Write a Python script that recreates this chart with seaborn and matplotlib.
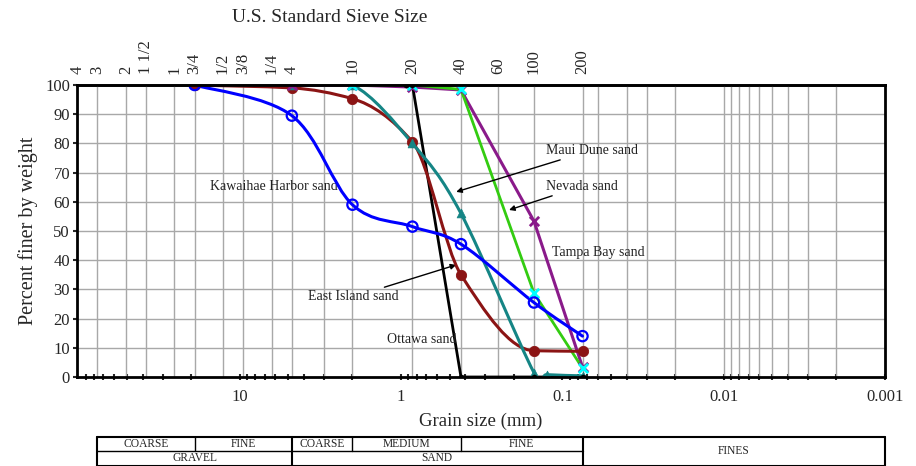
import numpy as np
import pandas as pd
import matplotlib
matplotlib.use("Agg")
import matplotlib.pyplot as plt
import seaborn as sns
from matplotlib.path import Path
from matplotlib.patches import PathPatch

# ---------------- data ----------------
sieve_labels = ["4", "3", "2", "1 1/2", "1", "3/4", "1/2", "3/8", "1/4",
                "4", "10", "20", "40", "60", "100", "200"]
sieve_mm = [101.6, 76.2, 50.8, 38.1, 25.4, 19.05, 12.7, 9.525, 6.35,
            4.75, 2.0, 0.85, 0.425, 0.25, 0.15, 0.075]
extra_grid_mm = [3.0, 0.06, 0.04, 0.03, 0.02, 0.01, 0.009, 0.008, 0.007,
                 0.006, 0.005, 0.004, 0.003, 0.002]
x_major = [10, 1, 0.1, 0.01, 0.001]
x_major_labels = ["10", "1", "0.1", "0.01", "0.001"]
y_ticks = [0, 10, 20, 30, 40, 50, 60, 70, 80, 90, 100]

kawaihae_mm = [19.05, 4.75, 2.0, 0.85, 0.425, 0.15, 0.075]
kawaihae_pct = [100, 89.5, 59, 51.5, 45.5, 25.5, 14]

east_mm = [19.05, 4.75, 2.0, 0.85, 0.425, 0.15, 0.075]
east_pct = [100, 99, 95.3, 80.5, 35, 9, 8.8]

maui_mm = [4.75, 2.0, 0.85, 0.425, 0.15, 0.125, 0.075]
maui_pct = [100, 100, 80, 56, 1.5, 0.8, 0.4]

tampa_mm = [4.75, 2.0, 0.85, 0.425, 0.15, 0.075]
tampa_pct = [100, 100, 99.3, 98.3, 53.4, 3.4]

nevada_mm = [2.0, 0.85, 0.425, 0.15, 0.075]
nevada_pct = [100, 100, 98.5, 28.8, 3]

ottawa_mm = [0.93, 0.85, 0.425, 0.15, 0.075]
ottawa_pct = [100, 100, 0, 0, 0]

table_bounds_mm = [76.2, 19.05, 4.75, 2.0, 0.425, 0.075, 0.001]
table_top_labels = ["COARSE", "FINE", "COARSE", "MEDIUM", "FINE"]
table_group_labels = ["GRAVEL", "SAND"]

# ---------------- style ----------------
sns.set_style("ticks")
plt.rcParams["font.family"] = ["Liberation Serif", "DejaVu Serif"]

C_BLUE = "#0000ff"
C_RED = "#8b1414"
C_TEAL = "#158585"
C_PURPLE = "#8a1a8a"
C_GREEN = "#33cc11"
C_CYAN = "#00ffff"

fig = plt.figure(figsize=(9.16, 4.66), dpi=100)
L, R = 77 / 916, 885 / 916
B, T = 1 - 377 / 466, 1 - 85 / 466
XLIM = (102, 0.001)
ax = fig.add_axes([L, B, R - L, T - B])
ax.set_xscale("log")
ax.set_xlim(*XLIM)
ax.set_ylim(0, 100)


def bezier_patch(xs, ys, color, lw, z, mode="catmull"):
    """Smoothed line through the data points (drawn as cubic Bezier in log-x space)."""
    lx = np.log10(np.asarray(xs, float))
    yy = np.asarray(ys, float)
    n = len(lx)
    if mode == "pchip":
        h = np.diff(lx)
        dl = np.diff(yy) / h
        d = np.zeros(n)
        for k in range(1, n - 1):
            if dl[k - 1] * dl[k] <= 0:
                d[k] = 0.0
            else:
                w1 = 2 * h[k] + h[k - 1]
                w2 = h[k] + 2 * h[k - 1]
                d[k] = (w1 + w2) / (w1 / dl[k - 1] + w2 / dl[k])
        d[0], d[-1] = dl[0], dl[-1]
    verts = [(lx[0], yy[0])]
    codes = [Path.MOVETO]
    for i in range(n - 1):
        p1 = np.array([lx[i], yy[i]])
        p2 = np.array([lx[i + 1], yy[i + 1]])
        if mode == "pchip":
            hh = lx[i + 1] - lx[i]
            c1 = np.array([lx[i] + hh / 3, yy[i] + d[i] * hh / 3])
            c2 = np.array([lx[i + 1] - hh / 3, yy[i + 1] - d[i + 1] * hh / 3])
        else:
            p0 = np.array([lx[max(i - 1, 0)], yy[max(i - 1, 0)]])
            p3 = np.array([lx[min(i + 2, n - 1)], yy[min(i + 2, n - 1)]])
            c1 = p1 + (p2 - p0) / 6.0
            c2 = p2 - (p3 - p1) / 6.0
        verts += [tuple(c1), tuple(c2), tuple(p2)]
        codes += [Path.CURVE4] * 3
    verts = [(10 ** vx, vy) for vx, vy in verts]
    patch = PathPatch(Path(verts, codes), facecolor="none", edgecolor=color,
                      lw=lw, zorder=z, capstyle="round", joinstyle="round")
    ax.add_patch(patch)


# grid
for g in sieve_mm[1:] + extra_grid_mm:
    ax.axvline(g, color="#a8a8a8", lw=1.0, zorder=1)
for yv in y_ticks[1:-1]:
    ax.axhline(yv, color="#a8a8a8", lw=1.0, zorder=1)

# straight lines
sns.lineplot(x=tampa_mm, y=tampa_pct, ax=ax, color=C_PURPLE, lw=2.2,
             sort=False, zorder=3, estimator=None)
sns.lineplot(x=nevada_mm, y=nevada_pct, ax=ax, color=C_GREEN, lw=2.0,
             sort=False, zorder=3, estimator=None)
sns.lineplot(x=ottawa_mm, y=ottawa_pct, ax=ax, color="black", lw=2.0,
             sort=False, zorder=3, estimator=None)

# smooth curves
bezier_patch(east_mm, east_pct, C_RED, 2.2, 4, mode="pchip")
bezier_patch(maui_mm, maui_pct, C_TEAL, 2.2, 4)
bezier_patch(kawaihae_mm, kawaihae_pct, C_BLUE, 2.2, 5)

# markers
sns.scatterplot(x=east_mm, y=east_pct, ax=ax, color=C_RED, s=55,
                marker="o", edgecolor=C_RED, zorder=6)
sns.scatterplot(x=maui_mm, y=maui_pct, ax=ax, color=C_TEAL, s=40,
                marker="^", edgecolor=C_TEAL, zorder=6)
sns.scatterplot(x=tampa_mm, y=tampa_pct, ax=ax, color=C_PURPLE, s=45,
                marker="x", linewidth=2.0, zorder=6)
sns.scatterplot(x=nevada_mm, y=nevada_pct, ax=ax, color=C_CYAN, s=45,
                marker="x", linewidth=2.0, zorder=6)
sns.scatterplot(x=ottawa_mm, y=ottawa_pct, ax=ax, color="black", s=14,
                marker="o", edgecolor="black", zorder=6)
sns.scatterplot(x=kawaihae_mm, y=kawaihae_pct, ax=ax, s=55, marker="o",
                facecolor="none", edgecolor=C_BLUE, linewidth=1.6, zorder=7)

# axes styling
for sp in ax.spines.values():
    sp.set_visible(True)
    sp.set_linewidth(2.0)
    sp.set_color("black")
    sp.set_zorder(8)
ax.set_yticks(y_ticks)
ax.set_yticklabels([str(v) for v in y_ticks])
ax.set_xticks(x_major)
ax.set_xticklabels(x_major_labels)
ax.xaxis.set_minor_locator(matplotlib.ticker.LogLocator(base=10, subs=np.arange(2, 10)))
ax.xaxis.set_minor_formatter(matplotlib.ticker.NullFormatter())
ax.tick_params(axis="x", which="both", direction="inout", length=5, width=1.5,
               labelsize=12, pad=6, top=False)
ax.tick_params(axis="y", which="both", direction="out", length=3, width=1.5,
               labelsize=12, pad=2)
ax.set_xlabel("Grain size (mm)", fontsize=13.5, labelpad=6)
ax.set_ylabel("Percent finer by weight", fontsize=14.5, labelpad=5)

# top sieve axis
sec = ax.secondary_xaxis("top")
sec.set_xticks(sieve_mm)
sec.set_xticklabels(sieve_labels, rotation=90)
sec.xaxis.set_minor_locator(matplotlib.ticker.NullLocator())
sec.tick_params(axis="x", length=0, labelsize=12, pad=8)
sec.spines["top"].set_linewidth(2.0)
fig.text(330 / 916, 1 - 18 / 466, "U.S. Standard Sieve Size", ha="center",
         va="center", fontsize=14)

# annotations
ann = dict(fontsize=10, color="#222222")
ax.text(6.16, 65.4, "Kawaihae Harbor sand", ha="center", va="center", **ann)
ax.text(0.749, 12.7, "Ottawa sand", ha="center", va="center", **ann)
ax.text(0.116, 42.8, "Tampa Bay sand", ha="left", va="center", **ann)
arrow = dict(arrowstyle="-|>", color="black", lw=1.0, mutation_scale=8,
             shrinkA=0, shrinkB=0)
ax.annotate("Maui Dune sand", xy=(0.455, 63.4), xytext=(0.1263, 77.7),
            ha="left", va="center", arrowprops=arrow, **ann)
ax.annotate("Nevada sand", xy=(0.214, 57.2), xytext=(0.1263, 65.4),
            ha="left", va="center", arrowprops=arrow, **ann)
ax.annotate("East Island sand", xy=(0.455, 38.4), xytext=(1.04, 27.4),
            ha="right", va="center", arrowprops=arrow, **ann)

# classification table
tb = fig.add_axes([L, 0.0, R - L, (466 - 437) / 466])
tb.set_xscale("log")
tb.set_xlim(*XLIM)
tb.set_ylim(-0.03, 2.0)
tb.axis("off")
lwt = 1.5
x0, xe = table_bounds_mm[0], table_bounds_mm[-1]
tb.plot([x0, xe], [2, 2], color="black", lw=lwt, clip_on=False)
tb.plot([x0, xe], [0, 0], color="black", lw=lwt, clip_on=False)
tb.plot([x0, table_bounds_mm[5]], [1, 1], color="black", lw=1.0)
for xb in [x0, table_bounds_mm[2], table_bounds_mm[5], xe]:
    tb.plot([xb, xb], [0, 2], color="black", lw=lwt, clip_on=False)
for xb in [table_bounds_mm[1], table_bounds_mm[3], table_bounds_mm[4]]:
    tb.plot([xb, xb], [1, 2], color="black", lw=1.0)
tfs = 8.3
for i, lab in enumerate(table_top_labels):
    xc = np.sqrt(table_bounds_mm[i] * table_bounds_mm[i + 1])
    tb.text(xc, 1.5, lab, ha="center", va="center", fontsize=tfs)
tb.text(np.sqrt(table_bounds_mm[0] * table_bounds_mm[2]), 0.5,
        table_group_labels[0], ha="center", va="center", fontsize=tfs)
tb.text(np.sqrt(table_bounds_mm[2] * table_bounds_mm[5]), 0.5,
        table_group_labels[1], ha="center", va="center", fontsize=tfs)
tb.text(np.sqrt(table_bounds_mm[5] * table_bounds_mm[6]), 1.0, "FINES",
        ha="center", va="center", fontsize=tfs)

fig.savefig("out.png", dpi=100)
